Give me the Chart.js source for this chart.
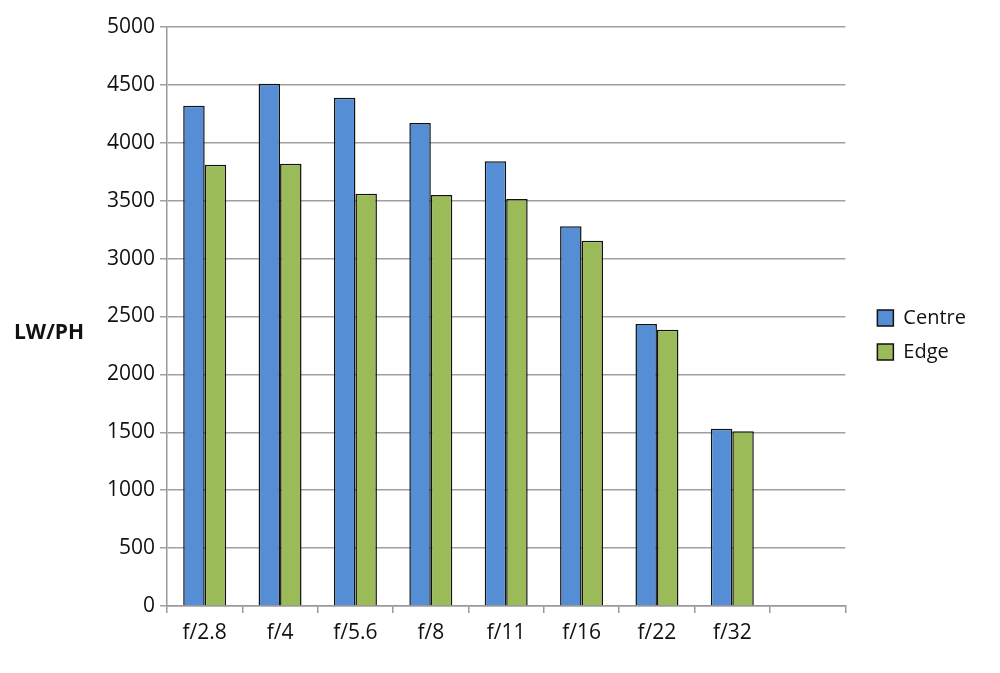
<!DOCTYPE html>
<html>
<head>
<meta charset="utf-8">
<script src="https://cdn.jsdelivr.net/npm/chart.js@4.4.1/dist/chart.umd.min.js"></script>
<style>
  html, body { margin: 0; padding: 0; background: #fff; }
  #wrap { width: 1000px; height: 673px; position: relative; }
</style>
</head>
<body>
<div id="wrap"><canvas id="c" width="1000" height="673"></canvas></div>
<script>
const categories = ['f/2.8', 'f/4', 'f/5.6', 'f/8', 'f/11', 'f/16', 'f/22', 'f/32', ''];
const centreValues = [4320, 4510, 4390, 4170, 3840, 3280, 2435, 1530, null];
const edgeValues = [3810, 3820, 3560, 3550, 3515, 3155, 2385, 1510, null];
const yTicks = [0, 500, 1000, 1500, 2000, 2500, 3000, 3500, 4000, 4500, 5000];
const yTitle = 'LW/PH';

const FONT = '"Open Sans", "DejaVu Sans", sans-serif';

const yTitlePlugin = {
  id: 'yTitle',
  afterLayout(chart) {
    if (chart.legend) { chart.legend.left += 18; chart.legend.right += 18; }
  },
  afterDraw(chart) {
    const ctx = chart.ctx;
    ctx.save();
    ctx.font = 'bold 21px ' + FONT;
    ctx.fillStyle = '#111';
    ctx.textAlign = 'left';
    ctx.textBaseline = 'middle';
    ctx.fillText(yTitle, 14, 333);
    ctx.restore();
  }
};

new Chart(document.getElementById('c'), {
  type: 'bar',
  data: {
    labels: categories,
    datasets: [
      { label: 'Centre', data: centreValues, backgroundColor: '#558ed5', borderColor: '#111', borderWidth: 1.5 },
      { label: 'Edge', data: edgeValues, backgroundColor: '#9bbb59', borderColor: '#111', borderWidth: 1.5 }
    ]
  },
  options: {
    responsive: false,
    animation: false,
    devicePixelRatio: 1,
    layout: { padding: { top: 27, left: 0, right: 42, bottom: 30 } },
    datasets: { bar: { categoryPercentage: 0.57, barPercentage: 1.0 } },
    plugins: {
      legend: {
        position: 'right',
        labels: {
          boxWidth: 16, boxHeight: 16, padding: 14,
          color: '#111',
          font: { family: FONT, size: 20 }
        }
      },
      tooltip: { enabled: false }
    },
    scales: {
      x: {
        grid: { drawOnChartArea: false, drawTicks: true, tickLength: 7, color: '#999', lineWidth: 1.5 },
        border: { color: '#999', width: 1.5 },
        ticks: { color: '#111', font: { family: FONT, size: 21 }, padding: 7, maxRotation: 0 },
        afterFit(scale) { scale.height = 37; }
      },
      y: {
        min: 0, max: 5000,
        afterBuildTicks(scale) { scale.ticks = yTicks.map(v => ({ value: v })); },
        grid: { color: '#a0a0a0', lineWidth: 1.5, drawTicks: true, tickLength: 7 },
        border: { color: '#999', width: 1.5 },
        ticks: { color: '#111', font: { family: FONT, size: 21 }, padding: 5, callback: (v) => String(v) },
        afterFit(scale) { scale.width = 167; }
      }
    }
  },
  plugins: [yTitlePlugin]
});
</script>
</body>
</html>
